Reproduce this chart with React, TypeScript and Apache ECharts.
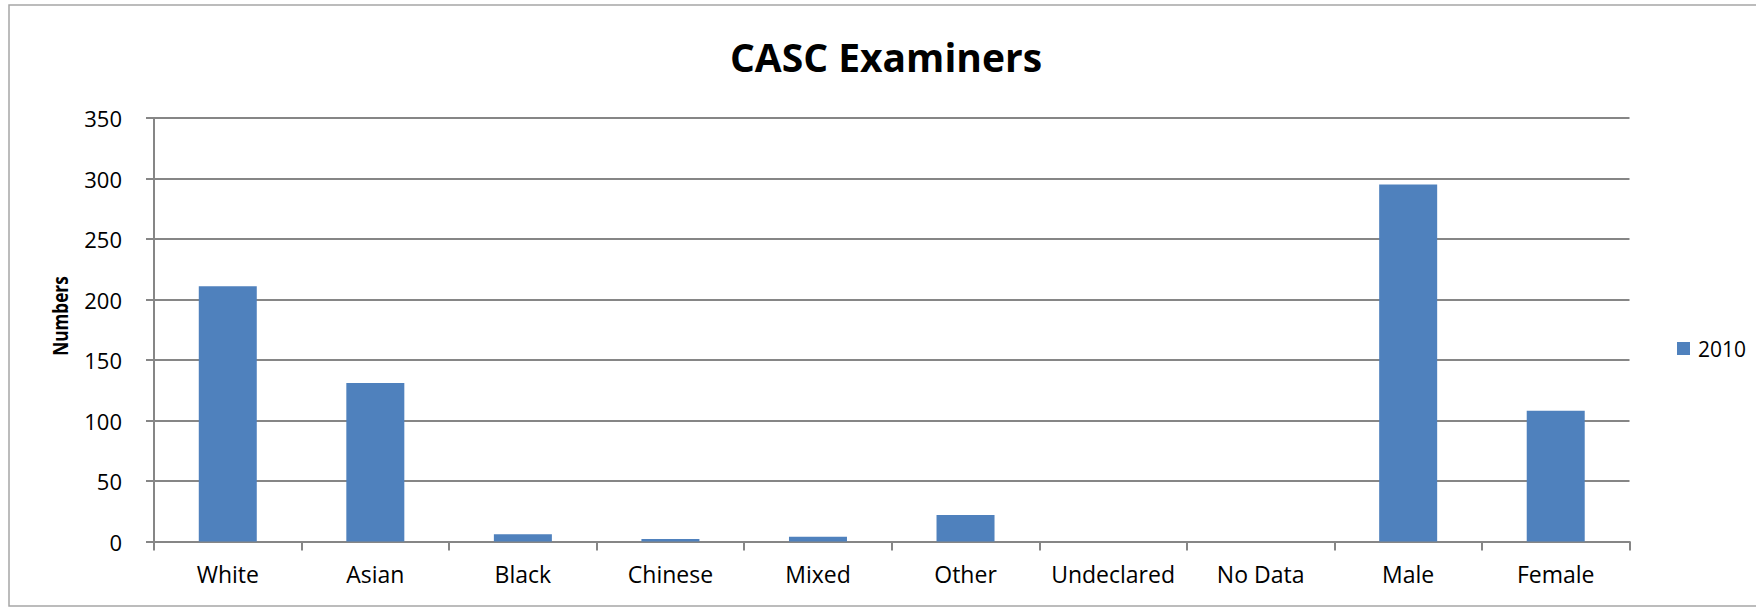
import React, { useEffect, useRef } from "react";
import * as echarts from "echarts";

const categories = ["White", "Asian", "Black", "Chinese", "Mixed", "Other", "Undeclared", "No Data", "Male", "Female"];
const values2010 = [211, 131, 6, 2, 4, 22, 0, 0, 295, 108];
const seriesName = "2010";
const chartTitle = "CASC Examiners";
const yAxisTitle = "Numbers";

const FONT = "'Open Sans', sans-serif";

export default function App() {
  const ref = useRef<HTMLDivElement>(null);
  useEffect(() => {
    if (!ref.current) return;
    const chart = echarts.init(ref.current, undefined, { renderer: "svg" });
    chart.setOption({
      animation: false,
      backgroundColor: "#ffffff",
      grid: { left: 154, top: 118, width: 1475.5, height: 423.5, containLabel: false },
      legend: {
        data: [seriesName],
        left: 1672,
        top: 333,
        icon: "rect",
        itemWidth: 13,
        itemHeight: 13,
        textStyle: { fontFamily: FONT, fontSize: 21, color: "#000", padding: [0, 0, 0, 3] },
      },
      xAxis: {
        type: "category",
        data: categories,
        boundaryGap: true,
        axisLine: { show: true, lineStyle: { color: "#868686", width: 2 } },
        axisTick: { show: true, length: 9, alignWithLabel: false, lineStyle: { color: "#868686", width: 2 } },
        axisLabel: { fontFamily: FONT, fontSize: 23, color: "#000", margin: 21, interval: 0 },
        splitLine: { show: false },
      },
      yAxis: {
        type: "value",
        min: 0,
        max: 350,
        interval: 50,
        axisLine: { show: true, lineStyle: { color: "#868686", width: 2 } },
        axisTick: { show: true, length: 8, inside: false, lineStyle: { color: "#868686", width: 2 } },
        axisLabel: { fontFamily: FONT, fontSize: 22, color: "#000", margin: 32 },
        splitLine: { show: true, lineStyle: { color: "#868686", width: 2 } },
      },
      series: [
        {
          name: seriesName,
          type: "bar",
          data: values2010,
          barWidth: 58,
          itemStyle: { color: "#4f81bd" },
        },
      ],
      graphic: [
        {
          type: "rect",
          shape: { x: 9, y: 5, width: 1760, height: 601 },
          style: { fill: "none", stroke: "#a6a6a6", lineWidth: 1.5 },
          silent: true,
        },
        {
          type: "text",
          x: 886,
          y: 56,
          style: {
            text: chartTitle,
            fontFamily: FONT,
            fontWeight: "bold",
            fontSize: 39,
            fill: "#000",
            align: "center",
            verticalAlign: "middle",
          },
        },
        {
          type: "text",
          x: 60,
          y: 316,
          rotation: Math.PI / 2,
          scaleX: 0.78,
          style: {
            text: yAxisTitle,
            fontFamily: FONT,
            fontWeight: "bold",
            fontSize: 22,
            fill: "#000",
            align: "center",
            verticalAlign: "middle",
          },
        },
      ],
    });
    return () => chart.dispose();
  }, []);
  return (
    <div
      ref={ref}
      style={{ position: "absolute", left: 0, top: 0, width: 1756, height: 607 }}
    />
  );
}
